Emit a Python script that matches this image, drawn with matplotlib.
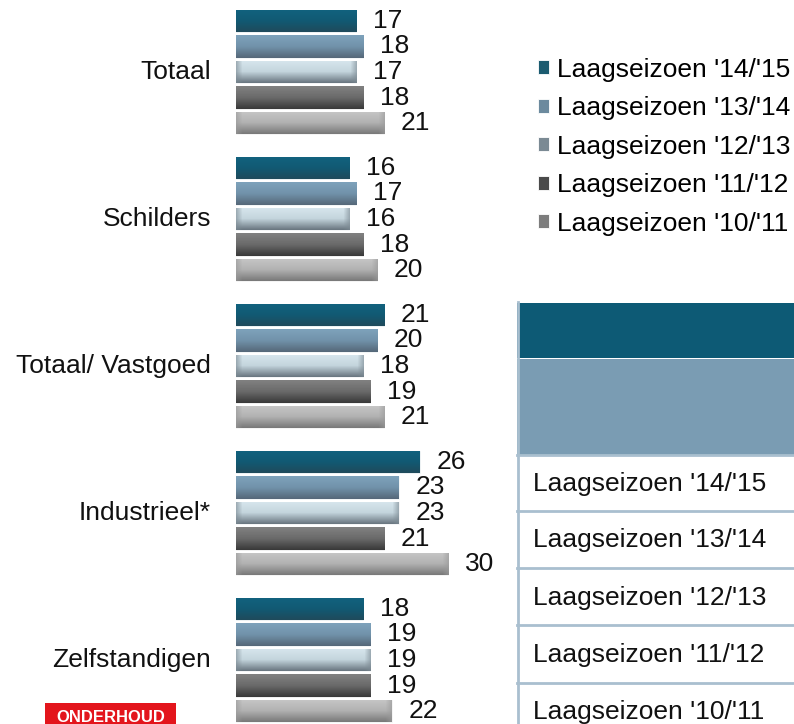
import numpy as np
import matplotlib
matplotlib.use("Agg")
import matplotlib.pyplot as plt
from matplotlib.colors import LinearSegmentedColormap, to_rgb
from matplotlib.patches import Rectangle

plt.rcParams['font.family'] = ['Liberation Sans', 'DejaVu Sans']

categories = ["Totaal", "Schilders", "Totaal/ Vastgoed", "Industrieel*", "Zelfstandigen"]
series_names = ["Laagseizoen '14/'15", "Laagseizoen '13/'14", "Laagseizoen '12/'13",
                "Laagseizoen '11/'12", "Laagseizoen '10/'11"]
s1415 = [17, 16, 21, 26, 18]
s1314 = [18, 17, 20, 23, 19]
s1213 = [17, 16, 18, 23, 19]
s1112 = [18, 18, 19, 21, 19]
s1011 = [21, 20, 21, 30, 22]
series_values = [s1415, s1314, s1213, s1112, s1011]
table_rows = series_names

# gradient stops (top -> bottom) per series and legend colors
grads = [
    ["#12627e", "#115a74", "#1f4b5c"],
    ["#7ea2bb", "#7192aa", "#56697a"],
    ["#d7e6ed", "#c4d5dd", "#6b7882"],
    ["#808080", "#6a6a6a", "#3a3a3a"],
    ["#c6c6c6", "#b2b2b2", "#7a7a7a"],
]
edge_dark = [None, None, "#7d8b94", None, "#9a9a9a"]
legend_cols = ["#1b5b70", "#6c8a9e", "#7b8a94", "#4a4a4a", "#7d7d7d"]

W, H = 794, 724
FS = 19
fig = plt.figure(figsize=(W / 100, H / 100), dpi=100)

px_per_unit = 7.07
ax_left, ax_right = 236, 517
ax = fig.add_axes([ax_left / W, 0, (ax_right - ax_left) / W, 1])
pitch_px = 147.0
top_center = 72.0
XL = (0, (ax_right - ax_left) / px_per_unit)
YL = ((H - top_center) / pitch_px, -top_center / pitch_px)
ax.axis('off')

bar_pitch = 25.6 / pitch_px
bar_h = 22.5 / pitch_px
y_idx = np.arange(len(categories))

for k, (vals, name) in enumerate(zip(series_values, series_names)):
    ys = y_idx + (k - 2) * bar_pitch
    cont = ax.barh(ys, vals, height=bar_h, color=legend_cols[k], label=name,
                   edgecolor='white', linewidth=0.6)
    cmap = LinearSegmentedColormap.from_list(f"g{k}", grads[k])
    col = cmap(np.linspace(0, 1, 23))[:, :3]
    for rect, v, y in zip(cont.patches, vals, ys):
        ncol = max(int(round(v * px_per_unit)), 10)
        img = np.repeat(col[:, None, :], ncol, axis=1).copy()
        if edge_dark[k] is not None:
            ed = np.array(to_rgb(edge_dark[k]))
            x = np.arange(ncol)
            d = np.minimum(x, ncol - 1 - x)
            w = np.clip(1 - d / 6.0, 0, 1)[None, :, None] * 0.6
            img = img * (1 - w) + ed[None, None, :] * w
        im = ax.imshow(img, aspect='auto', origin='upper', interpolation='bilinear',
                       extent=[0, v, y + bar_h / 2, y - bar_h / 2], zorder=2)
        im.set_clip_path(rect)
        ax.text(v + 2.35, y, str(v), ha='left', va='center', fontsize=FS,
                color='#111111', zorder=3)

ax.set_xlim(*XL)
ax.set_ylim(*YL)

for i, c in enumerate(categories):
    ax.text(-(236 - 211) / px_per_unit, i, c, ha='right', va='center', fontsize=FS,
            color='#111111')

# legend
handles, labels = ax.get_legend_handles_labels()
leg = fig.legend(handles, labels, loc='upper left',
                 bbox_to_anchor=(527 / W, 1 - 47 / H), frameon=False,
                 fontsize=FS, handlelength=0.45, handleheight=0.45,
                 handletextpad=0.3, labelspacing=0.55, borderaxespad=0)

# table on right
tab = fig.add_axes([0, 0, 1, 1], zorder=-1)
tab.set_xlim(0, W)
tab.set_ylim(H, 0)
tab.axis('off')
border = "#a9bfcf"
tab.add_patch(Rectangle((517, 303), W - 517, 55, facecolor="#0d5a75", edgecolor='none'))
tab.add_patch(Rectangle((517, 359), W - 517, 96, facecolor="#7a9cb3", edgecolor='none'))
row_edges = [455, 511, 568, 625, 683, 740]
for r, name in enumerate(table_rows):
    y0, y1 = row_edges[r], row_edges[r + 1]
    tab.add_patch(Rectangle((517, y0), W - 517, y1 - y0, facecolor='white',
                            edgecolor='none'))
    tab.plot([517, W], [y0, y0], color=border, lw=2)
    tab.text(533, (y0 + y1) / 2 + 1, name, ha='left', va='center', fontsize=FS,
             color='#111111')
tab.plot([518, 518], [302, H], color=border, lw=2)

# logo
tab.add_patch(Rectangle((45, 703), 131, 25, facecolor="#e3151c", edgecolor='none'))
tab.text(111, 710.5, "ONDERHOUD", ha='center', va='top', fontsize=12,
         fontweight='bold', color='white')

fig.savefig("out.png", dpi=100)
